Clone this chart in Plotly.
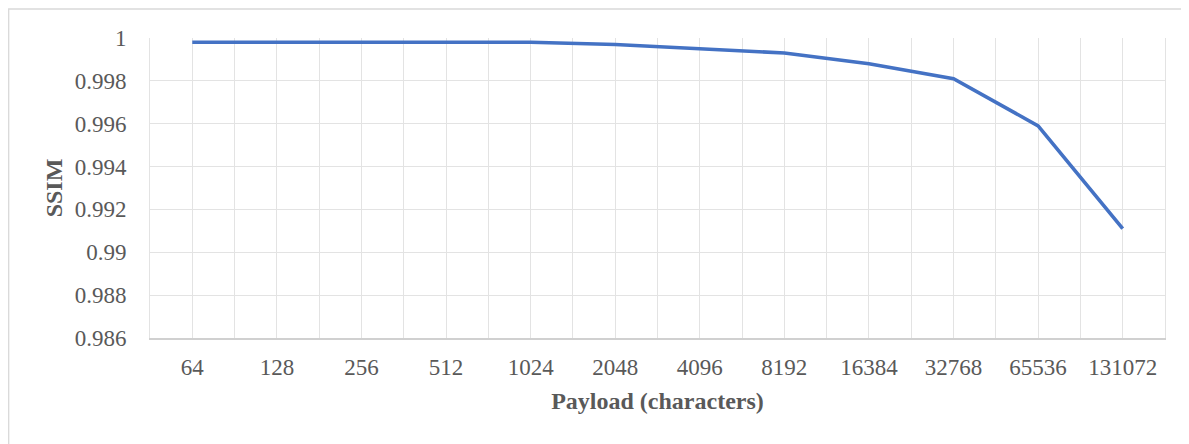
import plotly.graph_objects as go

payload_labels = ["64", "128", "256", "512", "1024", "2048", "4096", "8192",
                  "16384", "32768", "65536", "131072"]
ssim_values = [0.9998, 0.9998, 0.9998, 0.9998, 0.9998, 0.9997, 0.9995, 0.9993,
               0.9988, 0.9981, 0.9959, 0.9911]
y_tick_labels = ["0.986", "0.988", "0.99", "0.992", "0.994", "0.996", "0.998", "1"]

x_pos = list(range(len(payload_labels)))
y_vals = [float(t) for t in y_tick_labels]

grid_col = "#e3e3e3"
text_col = "#595959"
font_family = "Liberation Serif, Times New Roman, serif"

fig = go.Figure()
fig.add_trace(go.Scatter(
    x=x_pos, y=ssim_values, mode="lines",
    line=dict(color="#4472C4", width=3.6),
    showlegend=False, hoverinfo="skip",
))

fig.update_layout(
    width=1181, height=436,
    margin=dict(l=142, r=24, t=30, b=106),
    paper_bgcolor="white", plot_bgcolor="white",
    font=dict(family=font_family, color=text_col, size=23),
    xaxis=dict(
        range=[-0.5, len(payload_labels) - 0.5],
        tickvals=x_pos, ticktext=payload_labels,
        showgrid=True, gridcolor=grid_col, gridwidth=1,
        minor=dict(tick0=0.5, dtick=1, showgrid=True, gridcolor=grid_col, gridwidth=1),
        showline=True, linecolor="#d0d0d0", linewidth=1.5,
        zeroline=False, ticks="", ticklabelstandoff=8,
        tickfont=dict(size=23, color=text_col),
        title=dict(text="<b>Payload (characters)</b>", standoff=13,
                   font=dict(size=24, color=text_col)),
    ),
    yaxis=dict(
        range=[y_vals[0], y_vals[-1]],
        tickvals=y_vals, ticktext=y_tick_labels,
        showgrid=True, gridcolor=grid_col, gridwidth=1,
        showline=True, linecolor=grid_col, linewidth=1, mirror=True,
        zeroline=False, ticks="", ticklabelstandoff=18,
        tickfont=dict(size=23, color=text_col),
        title=dict(text="<b>SSIM</b>", standoff=5,
                   font=dict(size=24, color=text_col)),
    ),
    shapes=[dict(
        type="rect", xref="paper", yref="paper",
        x0=(8.7 - 150) / 1015, x1=1.2, y0=-0.6, y1=(338 - 9) / 300,
        line=dict(color="#d9d9d9", width=1.3), fillcolor="rgba(0,0,0,0)",
        layer="below",
    )],
)

fig.write_html("out.html")
